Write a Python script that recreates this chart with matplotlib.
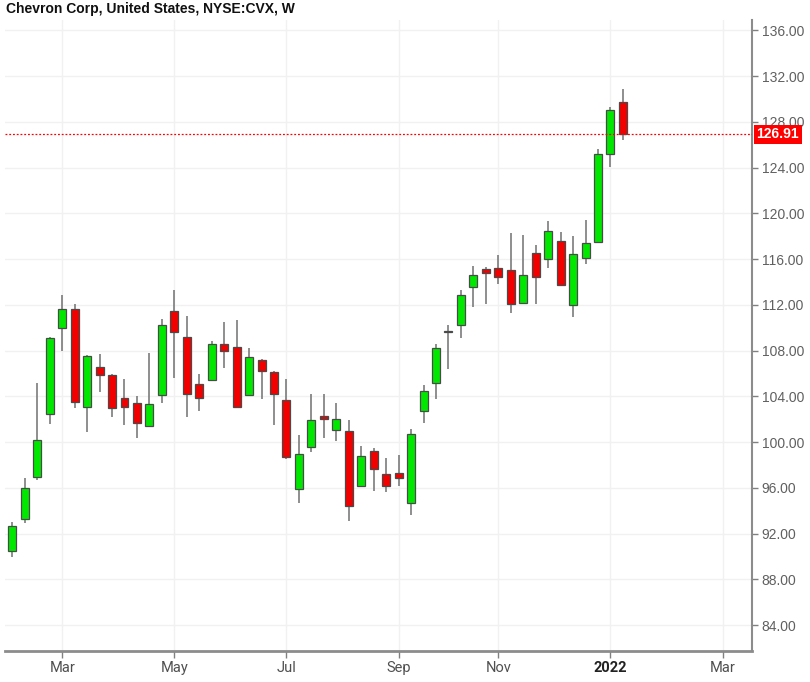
import pandas as pd
import matplotlib
matplotlib.use("Agg")
import matplotlib.pyplot as plt
import matplotlib.transforms as mtransforms

# weekly OHLC, Chevron (CVX), weeks starting 2021-02-01
opens  = [90.5, 93.3, 97.0, 102.5, 110.0, 111.6, 103.1, 106.6, 105.9, 103.9,
          103.4, 101.4, 104.1, 111.5, 109.2, 105.1, 105.45, 108.55, 108.35, 104.15,
          107.15, 106.15, 103.7, 95.95, 99.6, 102.3, 101.05, 100.95, 96.2, 99.2,
          97.2, 97.35, 94.7, 102.75, 105.15, 109.6, 110.25, 113.6, 115.15, 115.25,
          115.05, 112.15, 116.5, 116.0, 117.55, 111.95, 116.1, 117.5, 125.2, 129.75]
highs  = [93.0, 96.9, 105.2, 109.2, 112.9, 112.1, 107.6, 107.7, 106.0, 105.5,
          104.0, 107.8, 110.8, 113.3, 111.0, 106.0, 108.85, 110.5, 110.7, 108.25,
          107.25, 106.2, 105.5, 100.65, 104.2, 104.2, 103.4, 101.9, 99.7, 99.45,
          98.65, 98.9, 101.15, 105.0, 108.55, 110.2, 113.3, 115.4, 115.3, 116.4,
          118.25, 118.15, 117.25, 119.35, 118.35, 118.05, 119.45, 125.65, 129.3, 130.9]
lows   = [90.0, 92.9, 96.7, 101.6, 108.0, 103.0, 100.9, 104.4, 102.2, 101.5,
          100.35, 101.3, 103.4, 105.6, 102.2, 102.7, 105.4, 106.5, 103.1, 104.05,
          103.8, 101.5, 98.55, 94.7, 99.1, 100.35, 100.1, 93.1, 96.15, 95.75,
          95.65, 96.2, 93.6, 101.7, 103.75, 106.4, 109.15, 111.8, 112.1, 113.8,
          111.25, 112.1, 112.1, 115.2, 113.65, 110.9, 115.55, 117.4, 124.05, 126.45]
closes = [92.7, 96.0, 100.2, 109.1, 111.6, 103.5, 107.5, 105.9, 103.0, 103.1,
          101.7, 103.3, 110.2, 109.6, 104.2, 103.9, 108.55, 107.95, 103.1, 107.45,
          106.2, 104.2, 98.7, 99.0, 101.95, 102.0, 102.07, 94.4, 98.75, 97.65,
          96.2, 96.9, 100.7, 104.5, 108.2, 109.75, 112.9, 114.6, 114.8, 114.4,
          112.05, 114.6, 114.45, 118.45, 113.7, 116.45, 117.45, 125.15, 129.0, 126.91]

last_price = 126.91
yticks = [84, 88, 92, 96, 100, 104, 108, 112, 116, 120, 124, 128, 132, 136]
month_names = {3: "Mar", 5: "May", 7: "Jul", 9: "Sep", 11: "Nov"}

# x axis is bar index; month ticks sit on the first weekly bar of each odd month
weeks = pd.date_range("2021-02-01", periods=60, freq="W-MON")
xt, xl = [], []
for i, d in enumerate(weeks):
    if i > 0 and d.month == weeks[i - 1].month:
        continue
    if d.month == 1:
        xt.append(i); xl.append(str(d.year))
    elif d.month in month_names:
        xt.append(i); xl.append(month_names[d.month])

idx = list(range(len(opens)))
up = [c >= o for o, c in zip(opens, closes)]
colors = ["#00e800" if u else "#f20000" for u in up]
bottoms = [min(o, c) for o, c in zip(opens, closes)]
heights = [max(abs(c - o), 0.12) for o, c in zip(opens, closes)]

fig = plt.figure(figsize=(8.1, 6.82), dpi=100)
ax = fig.add_axes([5 / 810, 31 / 682, 747 / 810, 631 / 682])

ax.vlines(idx, lows, highs, color="#707070", lw=1.1, zorder=2)
ax.bar(idx, heights, bottom=bottoms, width=0.64, color=colors,
       edgecolor="#4a4a4a", linewidth=0.9, zorder=3)

ax.axhline(last_price, color="#ff0000", lw=0.9, ls=(0, (1.5, 1.5)), zorder=4)

ax.set_xlim(-0.59, 59.36)
ax.set_ylim(81.75, 136.9)

ax.yaxis.tick_right()
ax.set_yticks(yticks)
ax.set_yticklabels([f"{v:.2f}" for v in yticks], fontsize=10, color="#606060",
                   family=["Liberation Sans", "DejaVu Sans"])
ax.set_xticks(xt)
ax.set_xticklabels(xl, fontsize=10.5, color="#505050",
                   family=["Liberation Sans Narrow", "Roboto", "DejaVu Sans"])
for lab in ax.get_xticklabels():
    if lab.get_text() == "2022":
        lab.set_color("#222222")
        lab.set_fontweight("bold")

ax.tick_params(axis="y", direction="out", length=4, width=1, color="#808080", pad=3)
ax.tick_params(axis="x", direction="out", length=5, width=1, color="#808080", pad=2)
ax.grid(True, color="#f1f1f1", lw=1, zorder=0)
ax.set_axisbelow(True)

for side in ["top", "left"]:
    ax.spines[side].set_visible(False)
ax.spines["bottom"].set_color("#8c8c8c")
ax.spines["bottom"].set_linewidth(2)
ax.spines["right"].set_color("#8c8c8c")
ax.spines["right"].set_linewidth(1.5)

# last price tag on the price axis (covers the 128.00 label, as in the source)
trans = mtransforms.blended_transform_factory(ax.transAxes, ax.transData)
ax.text(1.006, last_price, "126.91", transform=trans, ha="left", va="center",
        fontsize=10, color="white", fontweight="bold",
        family=["Liberation Sans", "DejaVu Sans"],
        bbox=dict(boxstyle="square,pad=0.18", fc="#ff0000", ec="none"),
        clip_on=False, zorder=6)

fig.text(6 / 810, 1 - 9 / 682, "Chevron Corp, United States, NYSE:CVX, W",
         ha="left", va="center", fontsize=10, fontweight="bold", color="#111111",
         family=["Liberation Sans", "DejaVu Sans"])

fig.savefig("out.png", dpi=100)
print("Saved plot to out.png")
